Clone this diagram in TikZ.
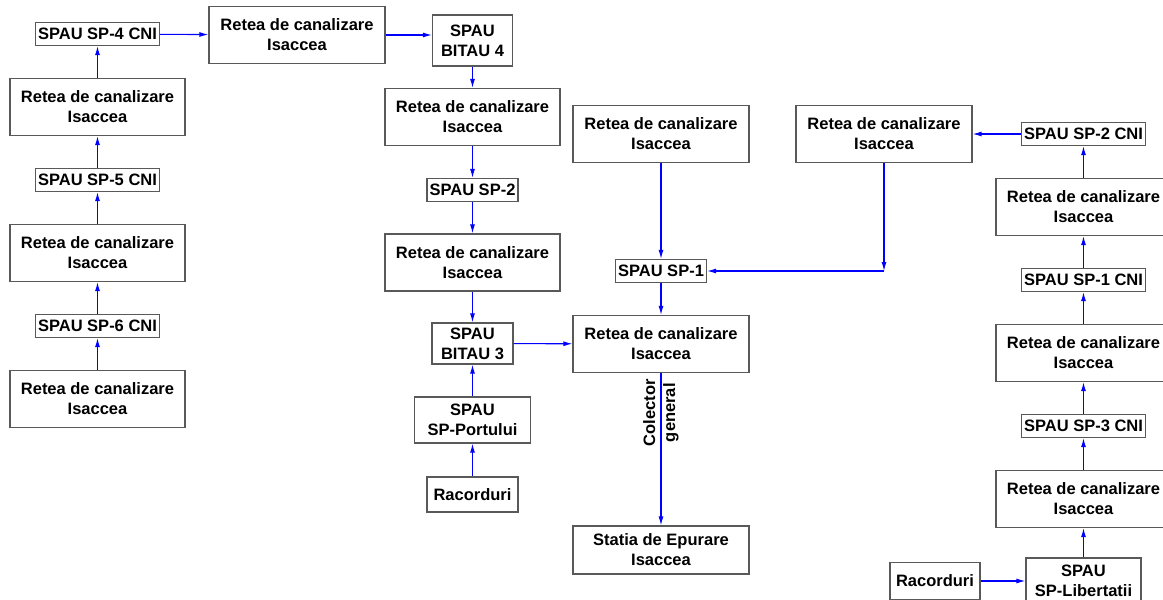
\documentclass[tikz,border=0pt]{standalone}
\usepackage{fontspec}
\setmainfont{Liberation Sans}
\usetikzlibrary{arrows.meta}

\tikzset{
  box/.style={draw=black!65, line width=1.2pt, align=center, inner sep=1pt,
    font=\fontsize{16.5}{20}\selectfont\bfseries},
  retea/.style={box, minimum width=175pt, minimum height=57pt},
  statie/.style={box, minimum height=23pt, inner xsep=2.5pt},
  flow/.style={draw=blue, line width=1.1pt, -{Latex[length=9pt,width=5pt]}}
}

\begin{document}
\begin{tikzpicture}[x=1pt, y=-1pt, node distance=73pt]
        \useasboundingbox (0,0) rectangle (1163,600);

        \node[retea] (6) at (97.5,399) {Retea de canalizare\\Isaccea};
        \node[statie, above of=6] (5) {SPAU SP-6 CNI};
        \node[retea, above of=5] (4) {Retea de canalizare\\Isaccea};
        \node[statie, above of=4] (3) {SPAU SP-5 CNI};
        \node[retea, above of=3] (2) {Retea de canalizare\\Isaccea};
        \node[statie, above of=2] (1) {SPAU SP-4 CNI};

        \node[retea, minimum width=176pt] (7) at (297,35) {Retea de canalizare\\Isaccea};
        \node[box, minimum width=80pt, minimum height=51pt] (8) at (472.5,40.5) {SPAU\\BITAU 4};
        \node[retea] (9) at (472.5,117) {Retea de canalizare\\Isaccea};
        \node[statie, minimum width=89pt] (10) at (472.5,190) {SPAU SP-2};
        \node[retea] (11) at (472.5,262.5) {Retea de canalizare\\Isaccea};
        \node[box, minimum width=81pt, minimum height=41pt] (12) at (472.5,343.5) {SPAU\\BITAU 3};
        \node[box, minimum width=116pt, minimum height=46pt] (13) at (472.5,420) {SPAU\\SP-Portului};
        \node[box, minimum width=91pt, minimum height=35pt] (14) at (472.5,494.5) {Racorduri};

        \node[retea, minimum width=176pt] (15) at (661,134) {Retea de canalizare\\Isaccea};
        \node[statie, minimum width=89pt] (16) at (661,271) {SPAU SP-1};
        \node[retea, minimum width=176pt] (17) at (661,344) {Retea de canalizare\\Isaccea};
        \node[box, minimum width=176pt, minimum height=48pt] (18) at (661,550) {Statia de Epurare\\Isaccea};

        \node[retea, minimum width=176pt] (19) at (884,134) {Retea de canalizare\\Isaccea};
        \node[statie] (20) at (1083.5,134) {SPAU SP-2 CNI};
        \node[retea, below of=20] (21) {Retea de canalizare\\Isaccea};
        \node[statie, below of=21] (22) {SPAU SP-1 CNI};
        \node[retea, below of=22] (23) {Retea de canalizare\\Isaccea};
        \node[statie, below of=23] (24) {SPAU SP-3 CNI};
        \node[retea, below of=24] (25) {Retea de canalizare\\Isaccea};
        \node[box, minimum width=115pt, minimum height=46pt] (26) at (1083.5,581) {SPAU\\SP-Libertatii};
        \node[box, minimum width=90pt, minimum height=37pt] (27) at (935,581) {Racorduri};

        \coordinate (c) at (19 |- 16);

        \foreach \from / \to in {6/5,5/4,4/3,3/2,2/1,1/7,8/9,9/10,10/11,11/12,14/13,13/12,12/17,15/16,16/17,
                                 26/25,25/24,24/23,23/22,22/21,21/20,20/19,27/26,19/c,c/16}
            \path (\from) edge[flow] (\to);

        \path (7) edge[flow] (7 -| 8.west);
        \path (17) edge[flow] node[pos=0.26, rotate=90, align=center,
            font=\fontsize{16.5}{20}\selectfont\bfseries] {Colector\\general} (18);
    \end{tikzpicture}
\end{document}
